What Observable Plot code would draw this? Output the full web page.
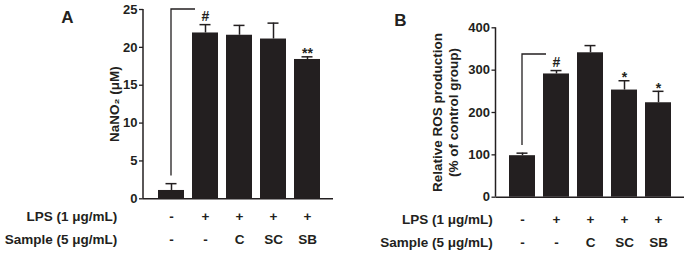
<!DOCTYPE html>
<html><head><meta charset="utf-8">
<script src="https://cdn.jsdelivr.net/npm/d3@7"></script>
<script src="https://cdn.jsdelivr.net/npm/@observablehq/plot@0.6"></script>
<style>
body{margin:0;background:#fff;}
#wrap{display:flex;width:688px;height:254px;}
</style></head><body><div id="wrap"></div>
<script>
// ---- data ----
const groups = ["Control", "LPS", "C", "SC", "SB"];
const lpsRow = ["-", "+", "+", "+", "+"];
const sampleRow = ["-", "-", "C", "SC", "SB"];
const lpsLabel = "LPS (1 μg/mL)";
const sampleLabel = "Sample (5 μg/mL)";

const no2Mean = [1.1, 21.9, 21.6, 21.1, 18.4];
const no2Err = [0.9, 1.1, 1.3, 2.1, 0.35];
const no2Sig = ["", "#", "", "", "**"];
const no2Ticks = [0, 5, 10, 15, 20, 25];
const no2Bracket = {from: "Control", to: "LPS", y1: 3.0, y2: 25};

const rosMean = [98, 291, 341, 253, 223];
const rosErr = [6, 8, 17, 22, 27];
const rosSig = ["", "#", "", "*", "*"];
const rosTicks = [0, 100, 200, 300, 400];
const rosBracket = {from: "Control", to: "LPS", y1: 122, y2: 337};

const ink = "#231f20";
const font = "'Liberation Sans', Arial, Helvetica, sans-serif";

function panel(o) {
  const rows = groups.map((g, i) => ({
    g, mean: o.mean[i], top: o.mean[i] + o.err[i], sig: o.sig[i],
    lps: lpsRow[i], sample: sampleRow[i]
  }));
  const lab = {fontSize: 13.5, fontWeight: "bold", fill: ink, lineAnchor: "middle"};
  const plot = Plot.plot({
    width: 344, height: 254,
    marginLeft: o.ml, marginRight: o.mr, marginTop: o.mt, marginBottom: o.mb,
    style: {fontFamily: font, fontWeight: "bold", color: ink, fontSize: "13px", background: "white"},
    x: {domain: groups, axis: null, paddingInner: 0.23, paddingOuter: o.po, align: o.align},
    y: {domain: [o.ticks[0], o.ticks[o.ticks.length - 1]], axis: null},
    marks: [
      Plot.barY(rows, {x: "g", y: "mean", fill: ink}),
      Plot.ruleX(rows, {x: "g", y1: "mean", y2: "top", stroke: ink, strokeWidth: 1.5}),
      Plot.tickY(rows, {x: "g", y: "top", stroke: ink, strokeWidth: 1.5, insetLeft: 7.5, insetRight: 7.5}),
      Plot.axisY({ticks: o.ticks, tickSize: 4, tickPadding: 2, label: null, fontSize: 13, fontWeight: "bold", fill: ink, stroke: ink, strokeWidth: 1.3}),
      Plot.ruleY([0], {stroke: ink, strokeWidth: 1.5}),
      Plot.text(rows.filter(d => d.sig === "#"), {x: "g", y: "top", text: "sig", dy: -8, ...lab, fontSize: 14}),
      Plot.text(rows.filter(d => d.sig.startsWith("*")), {x: "g", y: "top", text: "sig", dy: -3, ...lab, fontSize: 14}),
      Plot.text(rows, {x: "g", text: "lps", frameAnchor: "bottom", dy: o.row1, ...lab}),
      Plot.text(rows, {x: "g", text: "sample", frameAnchor: "bottom", dy: o.row2, ...lab}),
      Plot.text([lpsLabel], {text: d => d, frameAnchor: "bottom-left", dx: o.rowDx, dy: o.row1, textAnchor: "end", ...lab}),
      Plot.text([sampleLabel], {text: d => d, frameAnchor: "bottom-left", dx: o.rowDx, dy: o.row2, textAnchor: "end", ...lab}),
      Plot.text([o.yLabel], {text: d => d, frameAnchor: "left", rotate: -90, dx: o.labelDx, textAnchor: "middle", lineHeight: 1.2, ...lab}),
      Plot.text([o.letter], {text: d => d, frameAnchor: "top-left", dx: o.letterDx, dy: o.letterDy, textAnchor: "middle", ...lab, fontSize: 17})
    ]
  });
  const xs = plot.scale("x"), ys = plot.scale("y");
  const svg = d3.select(plot);
  // y-axis line, through the plot's own y scale
  svg.append("path")
    .attr("d", `M${o.ml},${ys.apply(o.ticks[o.ticks.length - 1])}V${ys.apply(0)}`)
    .attr("fill", "none").attr("stroke", ink).attr("stroke-width", 1.5);
  // significance bracket
  const b = o.bracket;
  const x0 = xs.apply(b.from) + xs.bandwidth / 2;
  const x1 = xs.apply(b.to) + 3;
  svg.append("path")
    .attr("d", `M${x0},${ys.apply(b.y1)}V${ys.apply(b.y2)}H${x1}`)
    .attr("fill", "none").attr("stroke", ink).attr("stroke-width", 1.3);
  return plot;
}

const wrap = document.getElementById("wrap");
wrap.append(panel({
  letter: "A", mean: no2Mean, err: no2Err, sig: no2Sig, ticks: no2Ticks, bracket: no2Bracket,
  yLabel: "NaNO₂ (μM)",
  ml: 143, mr: 11, mt: 9, mb: 55.7, po: 0.385, align: 0.55,
  row1: 18.2, row2: 40.5, rowDx: -26.3, labelDx: -30, letterDx: -76, letterDy: 8
}));
wrap.append(panel({
  letter: "B", mean: rosMean, err: rosErr, sig: rosSig, ticks: rosTicks, bracket: rosBracket,
  yLabel: "Relative ROS production\n(% of control group)",
  ml: 151.5, mr: 4, mt: 27.3, mb: 57.3, po: 0.363, align: 0.5,
  row1: 22.5, row2: 45.5, rowDx: -3.2, labelDx: -51.5, letterDx: -95.5, letterDy: -7.3
}));
</script></body></html>
